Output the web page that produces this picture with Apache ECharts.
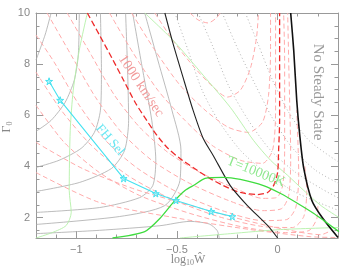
<!DOCTYPE html>
<html><head><meta charset="utf-8">
<script src="https://cdn.jsdelivr.net/npm/echarts@6/dist/echarts.min.js"></script>
<style>html,body{margin:0;padding:0;background:#fff}#c{width:359px;height:269px}</style>
</head><body><div id="c"></div>
<script>
// ---- axis ticks ----
const xMajorTicks = [-1, -0.5, 0];
const xMinorTicks = [-1.1, -1.0, -0.9, -0.8, -0.7, -0.6, -0.5, -0.4, -0.3, -0.2, -0.1, 0, 0.1, 0.2];
const yMajorTicks = [2, 4, 6, 8, 10];
const yMinorTicks = [1.5, 2, 2.5, 3, 3.5, 4, 4.5, 5, 5.5, 6, 6.5, 7, 7.5, 8, 8.5, 9, 9.5];

// ---- gray solid contours ----
const grayS1 = [[-1.125,10],[-1.155,9.14],[-1.2,8.16]];
const grayS2 = [[-0.985,10],[-0.99,8.35],[-1.01,7.37],[-1.055,6.51],[-1.125,5.8],[-1.2,5.37]];
const grayS3 = [[-0.88,10],[-0.875,7.76],[-0.88,6.2],[-0.91,5.33],[-0.975,4.71],[-1.085,4.24],[-1.2,3.96]];
const grayS4 = [[-0.755,10],[-0.745,7.76],[-0.74,5.8],[-0.76,4.63],[-0.825,3.92],[-0.985,3.37],[-1.2,3.02]];
const grayS5 = [[-0.72,10],[-0.67,7.76],[-0.625,5.8],[-0.605,4.24],[-0.62,3.25],[-0.685,2.78],[-0.885,2.39],[-1.2,2.2]];
const grayS6 = [[-0.66,10],[-0.595,8.16],[-0.525,6.2],[-0.48,4.63],[-0.485,3.45],[-0.56,2.47],[-0.785,2.04],[-1.2,1.73]];
const grayS7 = [[-1.2,1.37],[-0.885,1.5],[-0.585,1.68],[-0.435,1.85],[-0.34,1.75],[-0.3,1.49],[-0.29,1.2]];

// ---- gray dotted contours ----
const grayD1 = [[-0.51,10],[-0.445,8.55],[-0.375,6.98],[-0.295,5.8],[-0.185,4.63],[-0.06,3.76],[0.09,2.98],[0.305,2.27]];
const grayD2 = [[-0.395,10],[-0.325,8.75],[-0.245,7.18],[-0.145,5.8],[-0.035,4.63],[0.09,3.76],[0.215,3.14],[0.305,2.75]];
const grayD3 = [[-0.275,10],[-0.195,8.55],[-0.11,7.18],[-0.025,5.88],[0.075,4.71],[0.19,3.84],[0.305,3.33]];
const grayD4 = [[-0.16,10],[-0.095,8.75],[-0.025,7.37],[0.055,6.12],[0.155,5.02],[0.305,4.16]];

// ---- pink dashed contours ----
const pinkP0 = [[-0.435,10],[-0.395,9.73],[-0.345,9.61],[-0.305,9.8],[-0.285,10]];
const pinkP1 = [[-0.61,10],[-0.51,8.82],[-0.41,7.84],[-0.325,7.14],[-0.25,6.71],[-0.185,6.98],[-0.135,7.84],[-0.105,9.02],[-0.095,10]];
const pinkP2 = [[-0.725,10],[-0.61,8.55],[-0.485,7.18],[-0.36,6.2],[-0.245,5.53],[-0.145,5.33],[-0.075,5.73],[-0.045,6.78],[-0.035,8.55],[-0.035,10]];
const pinkP3 = [[-0.835,10],[-0.72,8.47],[-0.595,6.98],[-0.46,5.8],[-0.325,4.82],[-0.185,4.24],[-0.075,4.12],[-0.025,4.63],[-0.01,6.2],[-0.01,10]];
const pinkQ1 = [[-1.045,10],[-0.925,8.35],[-0.81,6.78],[-0.685,5.53],[-0.545,4.55],[-0.385,3.76],[-0.21,3.14],[-0.075,2.75],[-0.005,2.78],[0.025,3.25],[0.035,4.63],[0.035,8.16],[0.03,10]];
const pinkQ2 = [[-1.145,10],[-1.025,8.35],[-0.905,6.71],[-0.775,5.33],[-0.625,4.24],[-0.445,3.37],[-0.245,2.67],[-0.075,2.27],[0.02,2.35],[0.055,2.86],[0.065,4.24],[0.055,8.16],[0.05,10]];
const pinkQ3 = [[-1.2,9.14],[-1.11,8.08],[-0.985,6.39],[-0.855,5.02],[-0.695,3.92],[-0.495,2.98],[-0.275,2.27],[-0.075,1.88],[0.045,1.92],[0.09,2.39],[0.105,3.65],[0.095,6.2]];
const pinkQ4 = [[-1.2,7.69],[-1.075,6.2],[-0.925,4.82],[-0.745,3.65],[-0.535,2.75],[-0.295,2.04],[-0.075,1.65],[0.075,1.61],[0.13,2.04],[0.145,3.06],[0.135,4.04]];
const pinkQ5 = [[-1.2,6.39],[-1.06,4.94],[-0.885,3.76],[-0.685,2.86],[-0.435,2.16],[-0.185,1.65],[0.04,1.41],[0.155,1.49],[0.195,1.96],[0.2,2.47]];
const pinkQ6 = [[-1.2,4.94],[-0.97,3.92],[-0.72,3.14],[-0.485,2.59],[-0.235,2.04],[0.015,1.57],[0.215,1.33],[0.265,1.49]];
const pinkQ7 = [[-1.2,3.76],[-0.885,2.59],[-0.485,1.96],[-0.135,1.53],[0.165,1.25],[0.305,1.22]];

// ---- red 1000 km/sec ----
const red1000 = [[-0.945,10],[-0.885,9.14],[-0.825,8.27],[-0.765,7.37],[-0.705,6.47],[-0.65,5.8],[-0.6,5.22],[-0.545,4.71],[-0.485,4.31],[-0.42,3.96],[-0.345,3.57],[-0.27,3.25],[-0.185,2.98],[-0.1,2.9],[-0.05,2.98],[-0.02,3.25],[0,3.76],[0.005,4.63],[0.01,5.8],[0.01,10]];

// ---- black boundaries ----
const blackLeft = [[-0.56,10],[-0.52,8.82],[-0.47,7.49],[-0.42,6.2],[-0.37,5.1],[-0.32,4.43],[-0.235,3.25],[-0.15,2.47],[-0.05,1.69],[0,1.2]];
const blackRight = [[0.065,10],[0.08,8.55],[0.095,6.59],[0.11,5.22],[0.13,3.92],[0.17,2.67],[0.225,1.96],[0.3,1.22]];

// ---- green ----
const greenT = [[-0.82,1.2],[-0.66,1.45],[-0.585,1.96],[-0.51,2.67],[-0.46,3.06],[-0.41,3.29],[-0.36,3.53],[-0.27,3.57],[-0.185,3.49],[-0.07,3.25],[0.015,2.94],[0.1,2.55],[0.18,2.16],[0.23,1.88],[0.305,1.45]];
const greenL1 = [[-0.945,10],[-0.985,8.55],[-1.015,6.98],[-1.03,5.41],[-1.035,3.06],[-1.025,2.2],[-1.05,1.69],[-1.12,1.41],[-1.2,1.2]];
const greenL2 = [[-0.66,10],[-0.52,8.94],[-0.37,7.57],[-0.235,6.31],[-0.12,5.02],[-0.035,4.24],[0.05,3.65],[0.13,3.06],[0.215,2.47],[0.305,2.0]];
const greenL3 = [[-0.485,1.2],[-0.235,1.37],[0.015,1.53],[0.305,1.61]];

// ---- cyan FH Sel track ----
const cyanFH = [[-1.135,7.33],[-1.08,6.59],[-0.765,3.53],[-0.605,2.94],[-0.505,2.67],[-0.33,2.24],[-0.225,2.04]];

const STAR = 'path://M50,0 L61,35 L98,35 L68,57 L79,91 L50,70 L21,91 L32,57 L2,35 L39,35 Z';
function ln(data, color, width, type, z) {
  return { type: 'line', data: data, showSymbol: false, symbol: 'none', smooth: 0.25,
    lineStyle: { color: color, width: width, type: type || 'solid' }, z: z || 2, silent: true, animation: false };
}
const G = '#ababab', P = '#ffabab';
const dashP = [5, 3], dot = [1, 2.5];
const series = [
  ln(grayS1, G, 0.8), ln(grayS2, G, 0.8), ln(grayS3, G, 0.8), ln(grayS4, G, 0.8),
  ln(grayS5, G, 0.8), ln(grayS6, G, 0.8), ln(grayS7, G, 0.8),
  ln(grayD1, G, 0.9, dot), ln(grayD2, G, 0.9, dot), ln(grayD3, G, 0.9, dot), ln(grayD4, G, 0.9, dot),
  ln(pinkP0, P, 1, dashP), ln(pinkP1, P, 1, dashP), ln(pinkP2, P, 1, dashP), ln(pinkP3, P, 1, dashP),
  ln(pinkQ1, P, 1, dashP), ln(pinkQ2, P, 1, dashP), ln(pinkQ3, P, 1, dashP), ln(pinkQ4, P, 1, dashP),
  ln(pinkQ5, P, 1, dashP), ln(pinkQ6, P, 1, dashP), ln(pinkQ7, P, 1, dashP),
  ln(greenL1, '#b4f0a8', 0.9), ln(greenL2, '#b4f0a8', 0.9), ln(greenL3, '#b4f0a8', 0.9),
  ln(red1000, '#ee2a2a', 1.3, [6, 3], 4),
  ln(blackLeft, '#222', 1.1, 'solid', 5), ln(blackRight, '#111', 1.6, 'solid', 5),
  ln(greenT, '#3fdc3f', 1.3, 'solid', 6),
  { type: 'line', data: cyanFH, smooth: false, symbol: STAR, symbolSize: 7, showSymbol: true,
    lineStyle: { color: '#45e2f0', width: 1.1 }, itemStyle: { color: 'rgba(150,240,250,0.6)', borderColor: '#45e2f0', borderWidth: 1 },
    z: 7, silent: true, animation: false }
];

const AX = '#999';
const labFont = { color: '#888', fontFamily: 'Liberation Sans', fontSize: 11 };
const fmt = v => (v < 0 ? '\u2212' : '') + Math.abs(v);
function xAx(pos, ticks, len, labels, line) {
  return { type: 'value', position: pos, min: -1.2, max: 0.3, splitLine: { show: false },
    axisLine: { show: line, onZero: false, lineStyle: { color: AX, width: 1 } },
    axisTick: { show: true, inside: true, length: len, customValues: ticks, lineStyle: { color: AX } },
    axisLabel: labels ? Object.assign({ customValues: xMajorTicks, formatter: fmt, margin: 6 }, labFont) : { show: false } };
}
function yAx(pos, ticks, len, labels, line) {
  return { type: 'value', position: pos, min: 1.2, max: 10, splitLine: { show: false },
    axisLine: { show: line, onZero: false, lineStyle: { color: AX, width: 1 } },
    axisTick: { show: true, inside: true, length: len, customValues: ticks, lineStyle: { color: AX } },
    axisLabel: labels ? Object.assign({ customValues: yMajorTicks, margin: 6 }, labFont) : { show: false } };
}
const chart = echarts.init(document.getElementById('c'), null, { renderer: 'canvas' });
chart.setOption({
  animation: false,
  backgroundColor: '#fff',
  grid: { left: 36, right: 21, top: 13, bottom: 31, containLabel: false },
  xAxis: [xAx('bottom', xMajorTicks, 7, true, true), xAx('bottom', xMinorTicks, 3.5, false, false),
          xAx('top', xMajorTicks, 7, false, true), xAx('top', xMinorTicks, 3.5, false, false)],
  yAxis: [yAx('left', yMajorTicks, 7, true, true), yAx('left', yMinorTicks, 3.5, false, false),
          yAx('right', yMajorTicks, 7, false, true), yAx('right', yMinorTicks, 3.5, false, false)],
  series: series,
  graphic: [
    { type: 'text', x: 141, y: 86, rotation: -0.98, z: 10, style: { text: '1000 km/sec', fill: '#f29a9a', font: '14px "Liberation Serif"', align: 'center', verticalAlign: 'middle' } },
    { type: 'text', x: 110, y: 140, rotation: -0.86, z: 10, style: { text: 'FH Sel', fill: '#66e6f2', font: '13px "Liberation Serif"', align: 'center', verticalAlign: 'middle' } },
    { type: 'text', x: 256, y: 172, rotation: -0.38, z: 10, style: { text: 'T=10000K', fill: '#8ee88e', font: '14px "Liberation Serif"', align: 'center', verticalAlign: 'middle' } },
    { type: 'text', x: 318, y: 92, rotation: -Math.PI / 2, z: 10, style: { text: 'No Steady State', fill: '#9a9a9a', font: '15px "Liberation Serif"', align: 'center', verticalAlign: 'middle' } },
    { type: 'text', x: 188, y: 260, z: 10, style: { text: '{a|log}{b|10}{a|\u0174}', align: 'center', verticalAlign: 'middle',
        rich: { a: { fill: '#888', font: '12px "Liberation Serif"' }, b: { fill: '#888', font: '8px "Liberation Serif"', padding: [6, 0, 0, 0] } } } },
    { type: 'text', x: 7, y: 127, rotation: Math.PI / 2, z: 10, style: { text: '{a|\u0393}{b|0}', align: 'center', verticalAlign: 'middle',
        rich: { a: { fill: '#888', font: '12px "Liberation Serif"' }, b: { fill: '#888', font: '8px "Liberation Serif"', padding: [6, 0, 0, 0] } } } }
  ]
});
</script></body></html>
